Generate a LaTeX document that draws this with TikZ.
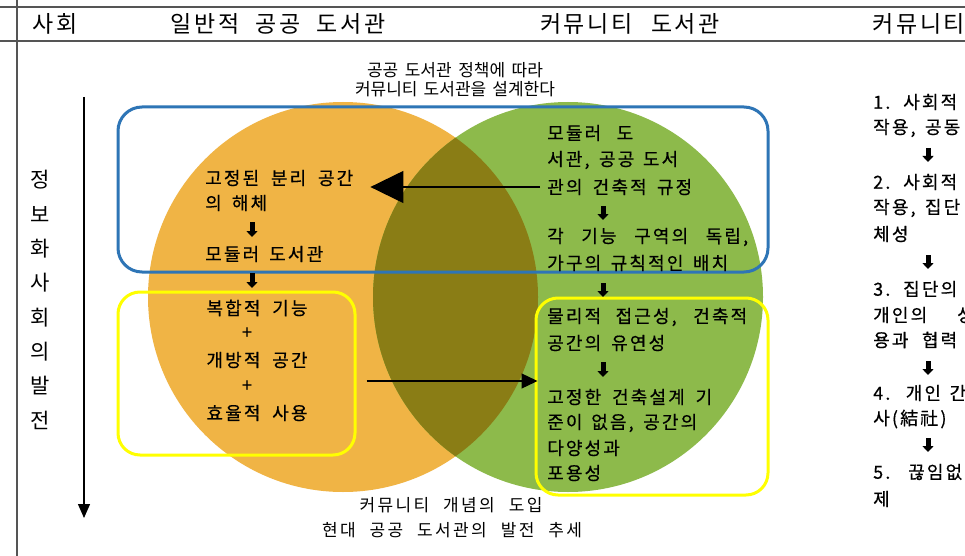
\documentclass[tikz,border=0pt]{standalone}
\usepackage{fontspec}
\setmainfont{Noto Sans CJK KR}
\newfontfamily\krfam[LetterSpace=12,FakeBold=0.5]{Noto Sans CJK KR}
\newfontfamily\krplain{Noto Sans CJK KR}
\newfontfamily\krhd[LetterSpace=12]{Noto Sans CJK KR}
\newfontfamily\krcap[LetterSpace=14]{Noto Sans CJK KR}
\newcommand{\krtext}{\krfam\fontsize{18}{21}\selectfont}
\newcommand{\krtop}{\krplain\fontsize{17}{20}\selectfont}
\newcommand{\krbot}{\krcap\fontsize{17}{20}\selectfont}
\newcommand{\krhead}{\krhd\fontsize{23}{26}\selectfont}
\newcommand{\krvert}{\krplain\fontsize{21}{24}\selectfont}
\newcommand{\jl}[2]{\makebox[#1][s]{#2}}
\usetikzlibrary{arrows.meta}
\definecolor{orng}{HTML}{F0B445}
\definecolor{grn}{HTML}{8DBA4B}
\definecolor{olv}{HTML}{8A7D15}
\definecolor{bluebox}{HTML}{2E75B6}
\definecolor{ylw}{HTML}{FFFF00}
\definecolor{rulec}{HTML}{555555}
\begin{document}
\begin{tikzpicture}[x=1pt,y=-1pt,
  t/.style={anchor=west,inner sep=0pt,font=\krtext},
  tc/.style={anchor=center,inner sep=0pt,font=\krtext},
  tp/.style={anchor=center,inner sep=0pt,font=\krtop},
  tb/.style={anchor=center,inner sep=0pt,font=\krbot},
  hd/.style={anchor=center,inner sep=0pt,font=\krhead},
  vt/.style={anchor=center,inner sep=0pt,font=\krvert},
  darr/.style={line width=5pt,-{Triangle[length=6pt,width=11pt]}},
  rulel/.style={draw=rulec,line width=1.3pt},
  bbox/.style={draw=bluebox,line width=3pt,rounded corners=24pt},
  ybox/.style={draw=ylw,line width=3pt,rounded corners=22pt},
  conn/.style={line width=1.3pt},
]
\useasboundingbox (0,0) rectangle (965,556);
\fill[white] (0,0) rectangle (965,556);
% header rules
\draw[rulel] (0,7) -- (965,7);
\draw[rulel] (0,41) -- (965,41);
\draw[rulel] (17,0) -- (17,556);
% header texts
\node[hd] (h1) at (55,24) {사회};
\node[hd] (h2) at (278,24) {\jl{215pt}{일반적 공공 도서관}};
\node[hd] (h3) at (630,24) {\jl{180pt}{커뮤니티 도서관}};
\node[hd,anchor=west] (h4) at (872,24) {커뮤니티};
% circles
\fill[orng] (343,297) circle (195pt);
\fill[grn] (568,297) circle (195pt);
\begin{scope}
  \clip (343,297) circle (195pt);
  \fill[olv] (568,297) circle (195pt);
\end{scope}
% boxes
\node[bbox,minimum width=650pt,minimum height=165pt] (blue) at (443,189.5) {};
\node[ybox,minimum width=237pt,minimum height=163pt] (yl) at (236.5,373.5) {};
\node[ybox,minimum width=232pt,minimum height=197pt] (yr) at (652,396.5) {};
% top and bottom captions
\node[tp] (c1) at (455,70) {\jl{176pt}{공공 도서관 정책에 따라}};
\node[tp] (c2) at (455,89) {\jl{200pt}{커뮤니티 도서관을 설계한다}};
\node[tb] (b1) at (451,505) {\jl{183pt}{커뮤니티 개념의 도입}};
\node[tb] (b2) at (452,530) {\jl{260pt}{현대 공공 도서관의 발전 추세}};
% vertical text
\foreach \ch [count=\i from 0] in {정,보,화,사,회,의,발,전}
  \node[vt] (v\i) at (40,180+34.3*\i) {\ch};
\coordinate (vtop) at (84,97);
\coordinate (vbot) at (84,518);
\draw[line width=1.2pt,-{Triangle[length=14pt,width=12pt]}] (vtop) -- (vbot);
% left texts
\node[t] (lu1) at (205,178) {\jl{148pt}{고정된 분리 공간}};
\node[t] (lu2) at (205,203) {\jl{62pt}{의 해체}};
\draw[darr] (252,222) -- (252,237);
\node[t] (lu3) at (205,254) {\jl{118pt}{모듈러 도서관}};
\draw[darr] (252,273) -- (252,288);
\node[tc] (ll1) at (257,308) {\jl{101pt}{복합적 기능}};
\node[tc] (ll2) at (247,333) {+};
\node[tc] (ll3) at (257,360) {\jl{101pt}{개방적 공간}};
\node[tc] (ll4) at (247,386) {+};
\node[tc] (ll5) at (257,413) {\jl{101pt}{효율적 사용}};
% right upper texts
\node[t] (ru1) at (547,133) {\jl{86pt}{모듈러 도}};
\node[t] (ru2) at (547,160) {\jl{131pt}{서관, 공공 도서}};
\node[t] (ru3) at (547,187) {\jl{145pt}{관의 건축적 규정}};
\draw[darr] (603,206) -- (603,220);
\node[t] (ru4) at (547,237) {\jl{201pt}{각 기능 구역의 독립,}};
\node[t] (ru5) at (547,263) {\jl{181pt}{가구의 규칙적인 배치}};
\draw[darr] (603,283) -- (603,297);
% right lower texts
\node[t] (rl1) at (547,317) {\jl{200pt}{물리적 접근성, 건축적}};
\node[t] (rl2) at (547,343) {\jl{118pt}{공간의 유연성}};
\draw[darr] (603,362) -- (603,377);
\node[t] (rl3) at (547,397) {\jl{165pt}{고정한 건축설계 기}};
\node[t] (rl4) at (547,423) {\jl{150pt}{준이 없음, 공간의}};
\node[t] (rl5) at (547,448) {다양성과};
\node[t] (rl6) at (547,473) {포용성};
% connectors
\draw[conn,-{Triangle[length=33pt,width=32pt]}] ([xshift=-7pt]ru3.west) -- ([xshift=17pt]lu1.east |- ru3.west);
\coordinate (mid) at (0,381);
\draw[conn,-{Triangle[length=16pt,width=15pt]}] ([xshift=10pt]yl.east |- mid) -- ([xshift=3pt]yr.west |- mid);
% right column
\node[t] (k1) at (873,102) {\jl{84pt}{1. 사회적}};
\node[t] (k2) at (873,128) {\jl{87pt}{작용, 공동}};
\draw[darr] (928,148) -- (928,162);
\node[t] (k3) at (873,182) {\jl{84pt}{2. 사회적}};
\node[t] (k4) at (873,208) {\jl{87pt}{작용, 집단}};
\node[t] (k5) at (873,234) {체성};
\draw[darr] (928,255) -- (928,269);
\node[t] (k6) at (873,289) {\jl{84pt}{3. 집단의}};
\node[t] (k7) at (873,315) {개인의};
\node[t] (k7b) at (957,315) {상};
\node[t] (k8) at (873,340) {\jl{84pt}{용과 협력}};
\draw[darr] (928,361) -- (928,375);
\node[t] (k9) at (873,393) {\jl{93pt}{4. 개인 간}};
\node[t] (k10) at (873,419) {사(結社)};
\draw[darr] (928,438) -- (928,452);
\node[t] (k11) at (873,472) {\jl{89pt}{5. 끊임없}};
\node[t] (k12) at (873,499) {제};
\end{tikzpicture}
\end{document}
